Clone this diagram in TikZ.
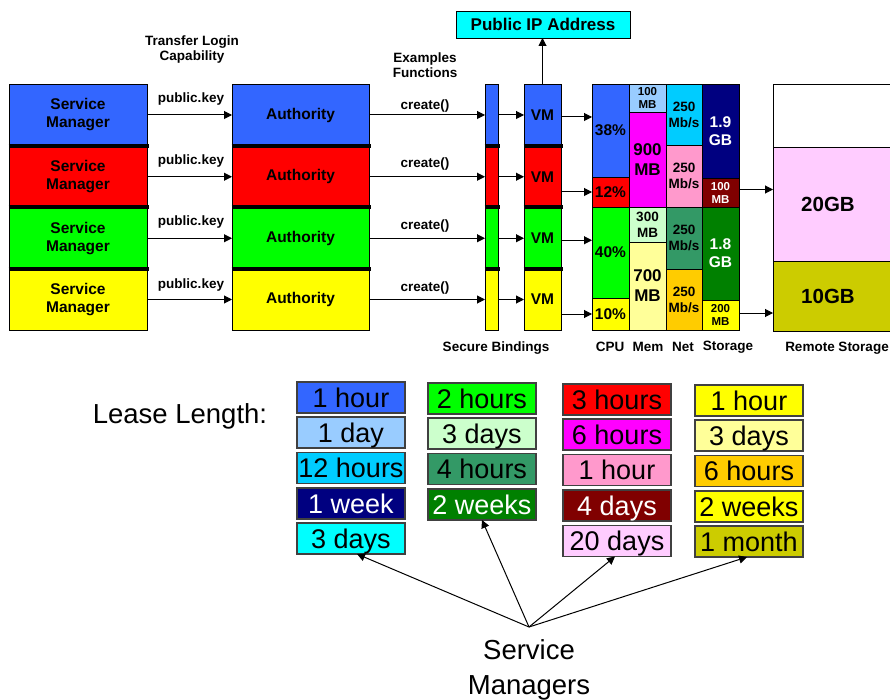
\documentclass[tikz,border=0pt]{standalone}
\usepackage{fontspec}
\setmainfont{Liberation Sans}
\usetikzlibrary{arrows.meta}
\definecolor{cblue}{HTML}{3366FF}
\definecolor{cred}{HTML}{FF0000}
\definecolor{cgreen}{HTML}{00FF00}
\definecolor{cyellow}{HTML}{FFFF00}
\definecolor{lblue}{HTML}{99CCFF}
\definecolor{skyb}{HTML}{00CCFF}
\definecolor{navyb}{HTML}{000080}
\definecolor{ccyan}{HTML}{00FFFF}
\definecolor{lgreen}{HTML}{CCFFCC}
\definecolor{seag}{HTML}{339966}
\definecolor{dgreen}{HTML}{008000}
\definecolor{cmag}{HTML}{FF00FF}
\definecolor{cpink}{HTML}{FF99CC}
\definecolor{maroonc}{HTML}{800000}
\definecolor{lpink}{HTML}{FFCCFF}
\definecolor{lyellow}{HTML}{FFFF99}
\definecolor{gold}{HTML}{FFCC00}
\definecolor{olive}{HTML}{CCCC00}
\tikzset{
  box/.style={draw=black, line width=0.8pt, inner sep=0pt, outer sep=0pt, anchor=north west, align=center},
  bt/.style={font=\bfseries\fontsize{15.5}{18}\selectfont},
  small/.style={font=\bfseries\fontsize{11.5}{13}\selectfont},
  mid/.style={font=\bfseries\fontsize{13.5}{16}\selectfont},
  big/.style={font=\bfseries\fontsize{17}{20}\selectfont},
  lbl/.style={font=\bfseries\fontsize{13.5}{15}\selectfont, inner sep=0pt, align=center},
  sepline/.style={line width=4pt, black},
  arr/.style={-{Triangle[length=8pt,width=8pt]}, line width=1pt},
  lease/.style={draw=black!75, line width=1.2pt, inner sep=0pt, outer sep=0pt, minimum width=108pt, minimum height=31pt, text height=19.5pt, text depth=0pt, anchor=north west, font=\fontsize{27}{30}\selectfont},
}
\begin{document}
\begin{tikzpicture}[x=1pt,y=-1pt]
\useasboundingbox (0,0) rectangle (890,700);

% --- Service managers
\node[box,bt,fill=cblue,  minimum width=138pt, minimum height=62pt]   (sm1) at (9,84)    {Service\\Manager};
\node[box,bt,fill=cred,   minimum width=138pt, minimum height=61.5pt] (sm2) at (9,146)   {Service\\Manager};
\node[box,bt,fill=cgreen, minimum width=138pt, minimum height=61.5pt] (sm3) at (9,207.5) {Service\\Manager};
\node[box,bt,fill=cyellow,minimum width=138pt, minimum height=61pt]   (sm4) at (9,269)   {Service\\Manager};
% --- Authorities
\node[box,bt,fill=cblue,  minimum width=137pt, minimum height=62pt]   (au1) at (232,84)    {Authority};
\node[box,bt,fill=cred,   minimum width=137pt, minimum height=61.5pt] (au2) at (232,146)   {Authority};
\node[box,bt,fill=cgreen, minimum width=137pt, minimum height=61.5pt] (au3) at (232,207.5) {Authority};
\node[box,bt,fill=cyellow,minimum width=137pt, minimum height=61pt]   (au4) at (232,269)   {Authority};
% --- Secure bindings
\node[box,fill=cblue,  minimum width=13pt, minimum height=62pt]   (sb1) at (485,84)    {};
\node[box,fill=cred,   minimum width=13pt, minimum height=61.5pt] (sb2) at (485,146)   {};
\node[box,fill=cgreen, minimum width=13pt, minimum height=61.5pt] (sb3) at (485,207.5) {};
\node[box,fill=cyellow,minimum width=13pt, minimum height=61pt]   (sb4) at (485,269)   {};
% --- VMs
\node[box,bt,fill=cblue,  minimum width=37pt, minimum height=62pt]   (vm1) at (524,84)    {VM};
\node[box,bt,fill=cred,   minimum width=37pt, minimum height=61.5pt] (vm2) at (524,146)   {VM};
\node[box,bt,fill=cgreen, minimum width=37pt, minimum height=61.5pt] (vm3) at (524,207.5) {VM};
\node[box,bt,fill=cyellow,minimum width=37pt, minimum height=61pt]   (vm4) at (524,269)   {VM};

% separators
\foreach \n in {sm,au,sb,vm}{
  \foreach \i in {1,2,3}{
    \draw[sepline] ([xshift=-0.4pt]\n\i.south west) -- ([xshift=2pt]\n\i.south east);
  }
}

% --- Public IP
\node[box,big,fill=ccyan, minimum width=174pt, minimum height=27pt] (ip) at (456,11) {Public IP Address};

% --- Resource grid
\node[box,bt,fill=cblue,  minimum width=37pt, minimum height=93pt] (cpu1) at (592,84)  {38\%};
\node[box,bt,fill=cred,   minimum width=37pt, minimum height=30pt] (cpu2) at (592,177) {12\%};
\node[box,bt,fill=cgreen, minimum width=37pt, minimum height=91pt] (cpu3) at (592,207) {40\%};
\node[box,bt,fill=cyellow,minimum width=37pt, minimum height=32pt] (cpu4) at (592,298) {10\%};

\node[box,small,fill=lblue,  minimum width=37pt, minimum height=28pt] (mem1) at (629,84)  {100\\MB};
\node[box,big,fill=cmag,     minimum width=37pt, minimum height=95pt] (mem2) at (629,112) {900\\MB};
\node[box,mid,fill=lgreen,   minimum width=37pt, minimum height=35pt] (mem3) at (629,207) {300\\MB};
\node[box,big,fill=lyellow,  minimum width=37pt, minimum height=88pt] (mem4) at (629,242) {700\\MB};

\node[box,mid,fill=skyb,  minimum width=36pt, minimum height=61pt] (net1) at (666,84)  {250\\Mb/s};
\node[box,mid,fill=cpink, minimum width=36pt, minimum height=62pt] (net2) at (666,145) {250\\Mb/s};
\node[box,mid,fill=seag,  minimum width=36pt, minimum height=62pt] (net3) at (666,207) {250\\Mb/s};
\node[box,mid,fill=gold,  minimum width=36pt, minimum height=61pt] (net4) at (666,269) {250\\Mb/s};

\node[box,bt,fill=navyb,   text=white, minimum width=37pt, minimum height=94pt] (sto1) at (702,84)  {1.9\\GB};
\node[box,small,fill=maroonc,text=white, minimum width=37pt, minimum height=29pt] (sto2) at (702,178) {100\\MB};
\node[box,bt,fill=dgreen,  text=white, minimum width=37pt, minimum height=93pt] (sto3) at (702,207) {1.8\\GB};
\node[box,small,fill=cyellow,minimum width=37pt, minimum height=30pt] (sto4) at (702,300) {200\\MB};

% --- Remote storage
\node[box,fill=white, minimum width=118pt, minimum height=63pt] (rem1) at (773,84) {};
\node[box,font=\bfseries\fontsize{20.5}{24}\selectfont,fill=lpink, minimum width=118pt, minimum height=114pt] (rem2) at (773,147) {\hspace*{-4pt}20GB\hspace*{4pt}};
\node[box,font=\bfseries\fontsize{20.5}{24}\selectfont,fill=olive, minimum width=118pt, minimum height=70pt] (rem3) at (773,261) {\hspace*{-4pt}10GB\hspace*{4pt}};

% --- labels
\node[lbl] (tlc) at (192,50) {Transfer Login\\Capability};
\node[lbl] (exf) at (425,65) {Examples\\Functions};
\node[lbl] (pk1) at (191,99)  {public.key};
\node[lbl] (pk2) at (191,161) {public.key};
\node[lbl] (pk3) at (191,222) {public.key};
\node[lbl] (pk4) at (191,285) {public.key};
\node[lbl] (cr1) at (425,106) {create()};
\node[lbl] (cr2) at (425,164) {create()};
\node[lbl] (cr3) at (425,226) {create()};
\node[lbl] (cr4) at (425,288) {create()};
\node[lbl] (lsb) at (496,348) {Secure Bindings};
\node[lbl] (lcpu) at (610,347) {CPU};
\node[lbl] (lmem) at (648,347) {Mem};
\node[lbl] (lnet) at (683,347) {Net};
\node[lbl] (lsto) at (728,347) {Storage};
\node[lbl] (lrem) at (837,348) {Remote Storage};

% --- arrows top
\foreach \i in {1,2,3,4}{
  \draw[arr] (sm\i) -- (au\i);
  \draw[arr] (au\i) -- (sb\i);
  \draw[arr] (sb\i) -- (vm\i);
}
\draw[arr] (vm1.north) -- (ip.south -| vm1.north);
\draw[arr] ([yshift=-2pt]vm1.east) -- ([yshift=-2pt]vm1.east -| cpu1.west);
\draw[arr] (vm2.east |- cpu2.west) -- (cpu2.west);
\draw[arr] ([yshift=-2pt]vm3.east) -- ([yshift=-2pt]vm3.east -| cpu3.west);
\draw[arr] (vm4.east |- cpu4.west) -- (cpu4.west);
\draw[arr] ([yshift=3pt]sto2.east) -- ([yshift=3pt]sto2.east -| rem2.west);
\draw[arr] ([yshift=2pt]sto4.east) -- ([yshift=2pt]sto4.east -| rem3.west);

% --- Lease lengths
\node[font=\fontsize{27.5}{30}\selectfont] (ll) at (180,416) {Lease Length:};

\node[lease,fill=cblue]   (l11) at (297,382)   {1 hour};
\node[lease,fill=lblue]   (l12) at (297,417)   {1 day};
\node[lease,fill=skyb]    (l13) at (297,452.5) {12 hours};
\node[lease,fill=navyb,text=white] (l14) at (297,488) {1 week};
\node[lease,fill=ccyan]   (l15) at (297,523)   {3 days};

\node[lease,fill=cgreen]  (l21) at (428,383)   {2 hours};
\node[lease,fill=lgreen]  (l22) at (428,418)   {3 days};
\node[lease,fill=seag]    (l23) at (428,453.5) {4 hours};
\node[lease,fill=dgreen,text=white] (l24) at (428,489) {2 weeks};

\node[lease,fill=cred]    (l31) at (563,384)   {3 hours};
\node[lease,fill=cmag]    (l32) at (563,419)   {6 hours};
\node[lease,fill=cpink]   (l33) at (563,454.5) {1 hour};
\node[lease,fill=maroonc,text=white] (l34) at (563,490) {4 days};
\node[lease,fill=lpink]   (l35) at (563,525.5) {20 days};

\node[lease,fill=cyellow] (l41) at (695,385)   {1 hour};
\node[lease,fill=lyellow] (l42) at (695,420)   {3 days};
\node[lease,fill=gold]    (l43) at (695,455.5) {6 hours};
\node[lease,fill=cyellow] (l44) at (695,491)   {2 weeks};
\node[lease,fill=olive]   (l45) at (695,526)   {1 month};

\coordinate (hub) at (529,627);
\node[font=\fontsize{27.5}{35}\selectfont, align=center] (smg) at (529,670) {Service\\Managers};
\draw[arr] (hub) -- ([xshift=6pt]l15.south);
\draw[arr] (hub) -- (l24.south);
\draw[arr] (hub) -- ([xshift=-2pt]l35.south);
\draw[arr] (hub) -- ([xshift=-2pt]l45.south);
\end{tikzpicture}
\end{document}
